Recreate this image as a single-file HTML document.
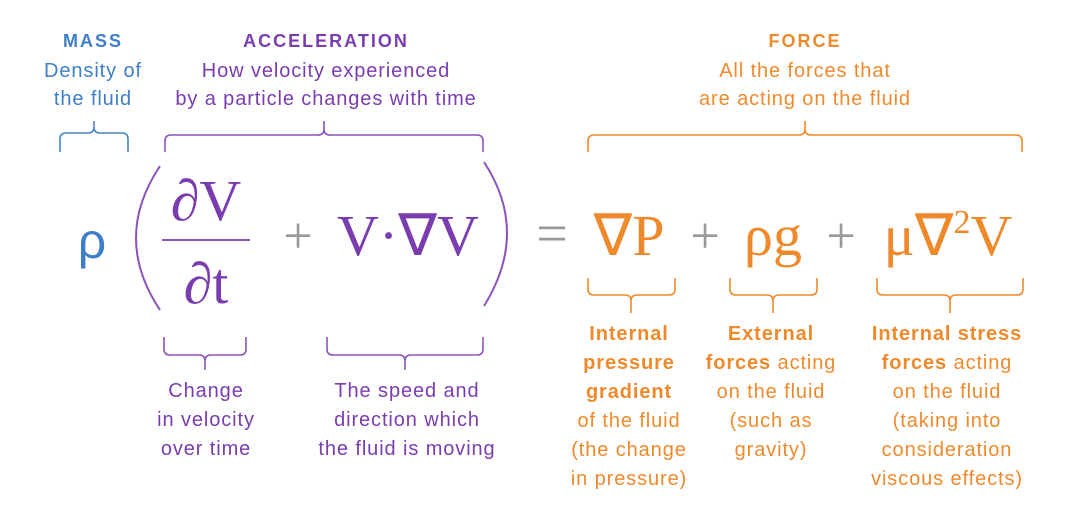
<!DOCTYPE html>
<html><head><meta charset="utf-8"><style>
html,body{margin:0;padding:0;background:#fff;}
svg{display:block}
.s{font-family:"Liberation Sans",sans-serif;font-size:20px;letter-spacing:0.9px;text-anchor:middle}
.h{font-weight:bold;letter-spacing:2px;font-size:18px}
.m{font-family:"Liberation Serif",serif;}
.b{fill:#3f7ec8}.p{fill:#7a3db0}.o{fill:#ee8a2c}
</style></head><body>
<svg width="1080" height="517" viewBox="0 0 1080 517">
<g class="s">
<text x="93" y="47" class="h b">MASS</text>
<text x="93" y="77" class="b">Density of</text>
<text x="93" y="105" class="b">the fluid</text>
<text x="326" y="47" class="h p">ACCELERATION</text>
<text x="326" y="77" class="p">How velocity experienced</text>
<text x="326" y="105" class="p">by a particle changes with time</text>
<text x="805" y="47" class="h o">FORCE</text>
<text x="805" y="77" class="o">All the forces that</text>
<text x="805" y="105" class="o">are acting on the fluid</text>
</g>
<g fill="none" stroke-width="1.6">
<path stroke="#4a86c4" d="M60 152V139Q60 133 66 133H88Q94 133 94 127V121M94 127Q94 133 100 133H122Q128 133 128 139V152"/>
<path stroke="#8a55bb" d="M165 152V141Q165 135 171 135H318Q324 135 324 129V121M324 129Q324 135 330 135H477Q483 135 483 141V152"/>
<path stroke="#ee8a2c" d="M588 152V141Q588 135 594 135H799Q805 135 805 129V121M805 129Q805 135 811 135H1016Q1022 135 1022 141V152"/>
<path stroke="#8a55bb" d="M164 337V349Q164 355 170 355H199Q205 355 205 361V370M205 361Q205 355 211 355H240Q246 355 246 349V337"/>
<path stroke="#8a55bb" d="M327 337V349Q327 355 333 355H399Q405 355 405 361V370M405 361Q405 355 411 355H477Q483 355 483 349V337"/>
<path stroke="#ee8a2c" d="M588 278V289Q588 295 594 295H625Q631 295 631 301V313M631 301Q631 295 637 295H669Q675 295 675 289V278"/>
<path stroke="#ee8a2c" d="M730 278V289Q730 295 736 295H767Q773 295 773 301V313M773 301Q773 295 779 295H811Q817 295 817 289V278"/>
<path stroke="#ee8a2c" d="M877 278V289Q877 295 883 295H944Q950 295 950 301V313M950 301Q950 295 956 295H1017Q1023 295 1023 289V278"/>
<path stroke="#8a55bb" stroke-width="2" d="M160 166Q112 238 160 310"/>
<path stroke="#8a55bb" stroke-width="2" d="M484 162Q530 232 484 306"/>
<line x1="162" y1="240" x2="250" y2="240" stroke="#8a55bb" stroke-width="2"/>
</g>
<text x="92" y="258" class="b" style="font-family:'Liberation Sans',sans-serif;font-size:50px" text-anchor="middle">ρ</text>
<g class="m" font-size="58">
<text x="206" y="220" class="p" text-anchor="middle">∂V</text>
<text x="206" y="303" class="p" text-anchor="middle">∂t</text>
<text x="298" y="253" fill="#999" text-anchor="middle" font-size="52">+</text>
<text x="408" y="255" class="p" text-anchor="middle">V·∇V</text>
<text x="552" y="252" fill="#999" text-anchor="middle" font-size="56">=</text>
<text x="629" y="255" class="o" text-anchor="middle">∇P</text>
<text x="705" y="253" fill="#999" text-anchor="middle" font-size="52">+</text>
<text x="773" y="255" class="o" text-anchor="middle">ρg</text>
<text x="841" y="253" fill="#999" text-anchor="middle" font-size="52">+</text>
<text x="948" y="255" class="o" text-anchor="middle">μ∇<tspan font-size="34" dy="-22">2</tspan><tspan dy="22">V</tspan></text>
</g>
<g class="s">
<text x="206" y="397" class="p">Change</text>
<text x="206" y="426" class="p">in velocity</text>
<text x="206" y="455" class="p">over time</text>
<text x="407" y="397" class="p">The speed and</text>
<text x="407" y="426" class="p">direction which</text>
<text x="407" y="455" class="p">the fluid is moving</text>
<text x="629" y="340" class="o" font-weight="bold">Internal</text>
<text x="629" y="369" class="o" font-weight="bold">pressure</text>
<text x="629" y="398" class="o" font-weight="bold">gradient</text>
<text x="629" y="427" class="o">of the fluid</text>
<text x="629" y="456" class="o">(the change</text>
<text x="629" y="485" class="o">in pressure)</text>
<text x="771" y="340" class="o" font-weight="bold">External</text>
<text x="771" y="369" class="o"><tspan font-weight="bold">forces</tspan> acting</text>
<text x="771" y="398" class="o">on the fluid</text>
<text x="771" y="427" class="o">(such as</text>
<text x="771" y="456" class="o">gravity)</text>
<text x="947" y="340" class="o" font-weight="bold">Internal stress</text>
<text x="947" y="369" class="o"><tspan font-weight="bold">forces</tspan> acting</text>
<text x="947" y="398" class="o">on the fluid</text>
<text x="947" y="427" class="o">(taking into</text>
<text x="947" y="456" class="o">consideration</text>
<text x="947" y="485" class="o">viscous effects)</text>
</g>
</svg>
</body></html>
